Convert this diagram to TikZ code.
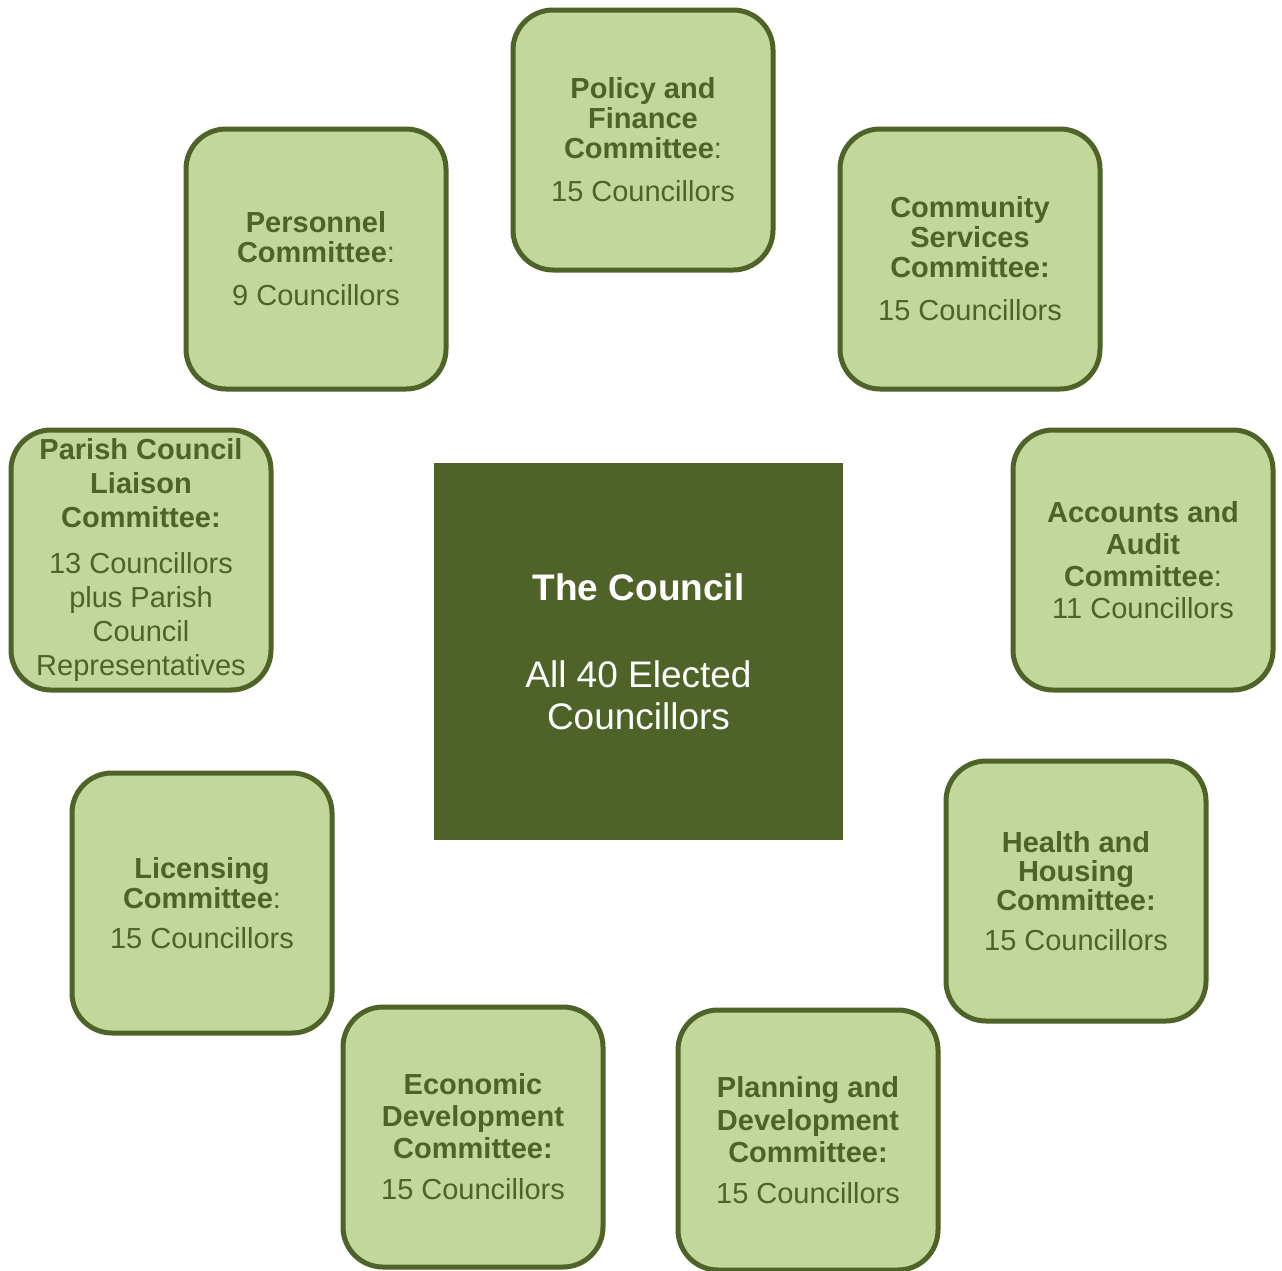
\documentclass[tikz,border=0pt]{standalone}
\usepackage{fontspec}
\setmainfont{Liberation Sans}
\definecolor{dkgreen}{HTML}{4F6228}
\definecolor{ltgreen}{HTML}{C4D79B}
\tikzset{
  cbox/.style={draw=dkgreen, fill=ltgreen, line width=5pt, rounded corners=40pt,
    minimum width=260pt, minimum height=260pt, align=center, text=dkgreen,
    inner sep=2pt},
  council/.style={fill=dkgreen, minimum width=409pt, minimum height=377pt,
    align=center, text=white, inner sep=0pt}
}
\newcommand{\fs}[1]{\fontsize{29}{#1}\selectfont}
\begin{document}
\begin{tikzpicture}[x=1pt, y=-1pt]
\fill[white] (0,0) rectangle (1282,1270);
\useasboundingbox (0,0) rectangle (1282,1270);

\node[council, font=\fontsize{37}{42}\selectfont] (council) at (638.5,651.5)
  {\textbf{The Council}\\[45pt] All 40 Elected\\ Councillors};

\node[cbox, font=\fs{30}] (policy) at (643,140)
  {\textbf{Policy and}\\ \textbf{Finance}\\ \textbf{Committee}:\\[13pt] 15 Councillors};

\node[cbox, font=\fs{30}] (community) at (970,259)
  {\textbf{Community}\\ \textbf{Services}\\ \textbf{Committee:}\\[13pt] 15 Councillors};

\node[cbox, font=\fs{30}] (personnel) at (316,259)
  {\textbf{Personnel}\\ \textbf{Committee}:\\[13pt] 9 Councillors};

\node[cbox, font=\fs{34}] (parish) at (141,560)
  {\textbf{Parish Council}\\ \textbf{Liaison}\\ \textbf{Committee:}\\[12pt] 13 Councillors\\ plus Parish\\ Council\\ Representatives};

\node[cbox, font=\fs{32}] (accounts) at (1143,560)
  {\textbf{Accounts and}\\ \textbf{Audit}\\ \textbf{Committee}:\\ 11 Councillors};

\node[cbox, font=\fs{30}] (licensing) at (202,903)
  {\textbf{Licensing}\\ \textbf{Committee}:\\[10pt] 15 Councillors};

\node[cbox, font=\fs{29}] (health) at (1076,891)
  {\textbf{Health and}\\ \textbf{Housing}\\ \textbf{Committee:}\\[11pt] 15 Councillors};

\node[cbox, font=\fs{32}] (economic) at (473,1137)
  {\textbf{Economic}\\ \textbf{Development}\\ \textbf{Committee:}\\[9pt] 15 Councillors};

\node[cbox, font=\fs{32.5}] (planning) at (808,1140)
  {\textbf{Planning and}\\ \textbf{Development}\\ \textbf{Committee:}\\[8pt] 15 Councillors};
\end{tikzpicture}
\end{document}
